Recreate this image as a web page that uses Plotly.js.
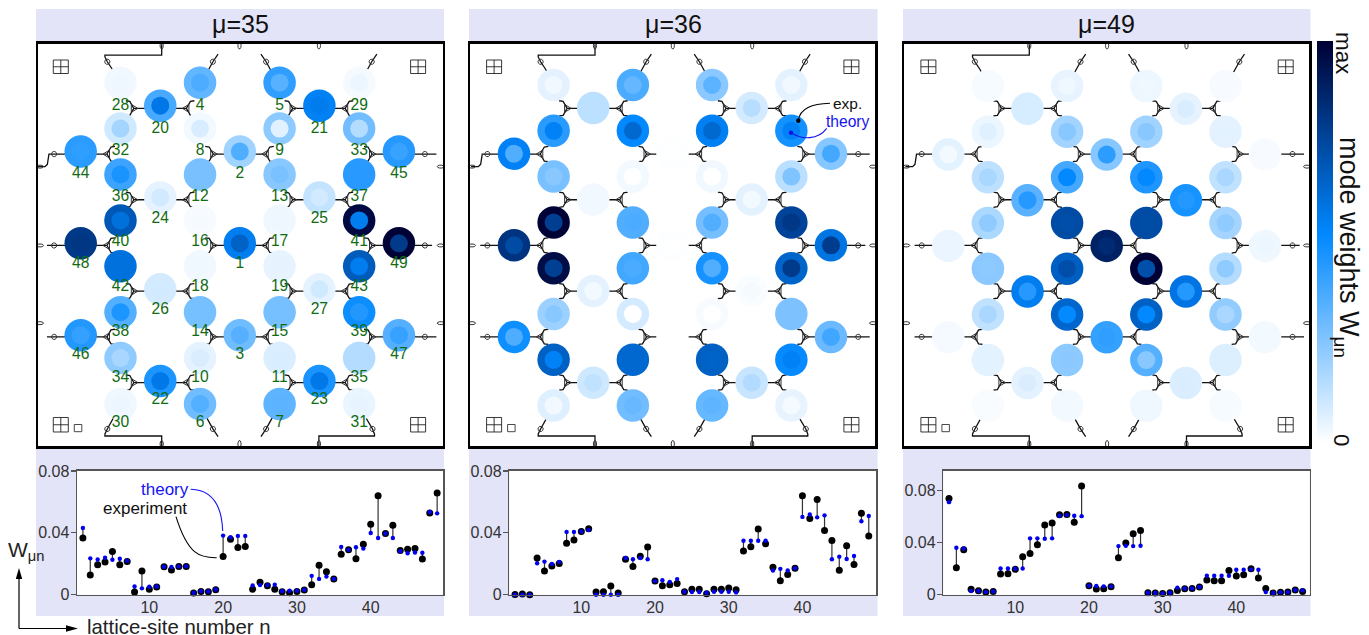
<!DOCTYPE html>
<html><head><meta charset="utf-8">
<script src="https://cdn.plot.ly/plotly-3.0.1.min.js"></script>
<style>html,body{margin:0;padding:0;background:#fff;overflow:hidden}</style>
</head><body><div id="chart" style="width:1369px;height:635px"></div>
<script>
// ---- data ----
const panelTitles = ['μ=35','μ=36','μ=49'];
// lattice position of site n = index+1: column and row of the honeycomb
const siteCol = [4,4,4,3,5,3,5,3,5,3,5,3,5,3,5,3,5,3,5,2,6,2,6,2,6,2,6,1,7,1,7,1,7,1,7,1,7,1,7,1,7,1,7,0,8,0,8,0,8];
const siteRow = [7,3,11,0,0,14,14,2,2,12,12,4,4,10,10,6,6,8,8,1,1,13,13,5,5,9,9,0,0,14,14,2,2,12,12,4,4,10,10,6,6,8,8,3,3,11,11,7,7];
const siteNumbers = siteCol.map((_, i) => i + 1);
const expMu35 = [.0367,.0128,.0194,.0211,.0279,.0194,.0215,.0017,.0154,.0036,.0049,.0181,.016,.0183,.0183,.0011,.0021,.0019,.0032,.0247,.0358,.0305,.0311,.0036,.0081,.0058,.0036,.0019,.0013,.0021,.003,.0064,.019,.0149,.0102,.0262,.029,.0232,.0326,.0456,.0639,.0396,.0449,.0285,.0294,.0298,.023,.0528,.0658];
const theoryMu35 = [.0431,.0235,.0228,.0239,.0226,.0232,.022,.0053,.0041,.0051,.0053,.0181,.0179,.0183,.0183,.0013,.0023,.0021,.0034,.0382,.0371,.038,.038,.006,.0062,.0062,.0064,.0023,.0026,.0026,.0032,.0122,.0102,.0117,.0102,.0309,.029,.0307,.0298,.0399,.0367,.0396,.0367,.0281,.0268,.0273,.0271,.0535,.0526];
const expMu36 = [.0002,.0004,0,.0237,.0154,.0186,.0201,.0332,.0353,.0409,.0426,.0017,.0019,.0056,.0011,.0229,.0182,.0248,.0308,.0088,.0058,.0064,.0073,.0019,.0036,.0036,.0006,.0036,.0036,.0043,.0032,.0282,.031,.0424,.0329,.0178,.009,.013,.0171,.064,.0492,.0616,.0415,.0351,.0158,.0317,.0195,.0526,.0379];
const theoryMu36 = [0,0,0,.0203,.0214,.0199,.0212,.0406,.0406,.0409,.0419,0,0,0,0,.0237,.0229,.0237,.0229,.0088,.0094,.0083,.0101,.0019,.0017,.0017,.0013,.0019,.0019,.0019,.0015,.0349,.0349,.0349,.0349,.0156,.0167,.0156,.0171,.0503,.0518,.05,.0513,.0229,.0246,.0231,.025,.0475,.0509];
const expMu49 = [.0736,.0206,.0344,.0041,.0031,.002,.0025,.0158,.0161,.0194,.029,.0316,.0382,.0533,.0548,.0612,.0614,.0555,.0831,.0069,.0043,.0046,.0061,.0283,.0395,.0466,.0492,.0015,.0013,.001,.0015,.0033,.0046,.0048,.0059,.0112,.0107,.0107,.0186,.0143,.0153,.0199,.0127,.0048,.0013,.0018,.002,.0036,.0025];
const theoryMu49 = [.0708,.0359,.0354,.0028,.0028,.002,.0025,.0201,.0201,.0199,.0201,.0431,.0431,.0428,.0431,.0604,.0609,.0604,.0601,.0069,.0066,.0064,.0064,.0372,.0375,.0372,.0375,.0015,.0013,.001,.0015,.0054,.0048,.0048,.0059,.0145,.0145,.0145,.0145,.0191,.0191,.0194,.0191,.002,.0013,.0018,.002,.0036,.0033];
const colorMax = [.066,.0645,.0835];
const yTickVals = [0,.04,.08];
const yTickText = ['0','0.04','0.08'];
const xTickVals = [10,20,30,40];

// ---- layout geometry (pixels) ----
const W = 1369, H = 635;
const FONT = '"Liberation Sans", Arial, sans-serif';
const latFrames = [{l:38,r:442.7,t:43.5,b:446.3,x0:80.7,px:39.78,y0:82.7,py:22.95},
                   {l:470,r:875,t:43.5,b:446.3,x0:514,px:39.62,y0:85,py:22.9},
                   {l:904.3,r:1309,t:43.5,b:446.3,x0:948.3,px:39.6,y0:86,py:22.84}];
const scaFrames = [{l:77,r:443.3,t:470.8,b:594.7,x1:82.9,px:7.38,top:.0801},
                   {l:509.3,r:876,t:470.8,b:594.7,x1:515,px:7.37,top:.0801},
                   {l:943.3,r:1309.7,t:470.8,b:594.7,x1:949,px:7.367,top:.0948}];
const strips = [[36,444],[469,877.5],[903,1310.5]];
const fx = x => x / W, fy = y => 1 - y / H;
const dom = (a,b,n) => [a/n, b/n];

const expAll = [expMu35, expMu36, expMu49];
const thAll = [theoryMu35, theoryMu36, theoryMu49];
const scale = [[0,'#ffffff'],[.52,'#0088ff'],[1,'#000033']];
const traces = [];
const layout = {width:W,height:H,margin:{l:0,r:0,t:0,b:0},paper_bgcolor:'#fff',plot_bgcolor:'rgba(0,0,0,0)',
  showlegend:false,font:{family:FONT,color:'#222'},shapes:[],annotations:[]};
const sh = layout.shapes, an = layout.annotations;

const pathOf = pts => pts.map((p,i)=> (i?'L':'M')+fx(p[0]).toFixed(5)+' '+fy(p[1]).toFixed(5)).join(' ');
const addPath = (d,color,width,fill) => sh.push({type:'path',xref:'paper',yref:'paper',path:d,layer:'below',
  line:{color:color,width:width},fillcolor:fill||'rgba(0,0,0,0)'});
const addRect = (x0,y0,x1,y1,color,line) => sh.push({type:'rect',xref:'paper',yref:'paper',x0:fx(x0),x1:fx(x1),y0:fy(y1),y1:fy(y0),
  layer:'below',fillcolor:color,line:line||{width:0}});
const note = (text,x,y,size,color,extra) => an.push(Object.assign({text:text,xref:'paper',yref:'paper',x:fx(x),y:fy(y),
  xanchor:'center',yanchor:'middle',showarrow:false,font:{size:size,color:color,family:FONT}},extra||{}));

// ---- circuit drawing under the sites ----
function circuit(p){
  const f = latFrames[p];
  const X = c => f.x0 + 39.7*c, Y = r => 85.5 + 22.85*r;
  const lines = [], thin = [];
  const poly = a => lines.push(pathOf(a.map(q=>[X(q[0]),Y(q[1])])));
  const oval = (cx,cy,rx,ry) => { const a=[]; for(let i=0;i<10;i++){const t=i/10*2*Math.PI;a.push([cx+rx*Math.cos(t),cy+ry*Math.sin(t)]);} thin.push(pathOf(a)+' Z'); };
  const tripod = (c,r,d) => {
    const cx = X(c)+d*26.3, cy = Y(r);
    lines.push(pathOf([[X(c),cy],[cx,cy]]));
    [-1,1].forEach(s=>lines.push(pathOf([[cx,cy],[cx+d*4,cy+s*7],[cx+d*8,cy+s*7.6]])));
    thin.push(pathOf([[cx-d*4,cy],[cx+d*2.5,cy-4],[cx+d*2.5,cy+4]])+' Z');
  };
  [3,7,11].forEach(r=>{tripod(0,r,1);tripod(4,r,-1);tripod(4,r,1);tripod(8,r,-1);});
  [1,5,9,13].forEach(r=>{[2,6].forEach(c=>{tripod(c,r,-1);tripod(c,r,1);});});
  // readout lines
  poly([[1,0],[.8,-.7],[.67,-1.04],[.61,-1.25],[.61,-1.33],[2.04,-1.33],[2.04,-1.8]]);
  poly([[3,0],[3.33,-1.04],[3.46,-1.37]]);
  poly([[5,0],[4.67,-1.04],[4.54,-1.37]]);
  poly([[7,0],[7.33,-1.04],[7.46,-1.37]]);
  poly([[1,14],[.67,15.03],[.61,15.25],[.61,15.34],[2.04,15.34],[2.04,15.8]]);
  poly([[3,14],[3.33,15.03],[3.46,15.37]]);
  poly([[5,14],[4.67,15.03],[4.54,15.37]]);
  poly([[7,14],[7.35,15.03],[7.4,15.25],[7.4,15.34],[6,15.34],[6,15.8]]);
  poly([[0,3],[-.67,3],[-.8,3],[-.84,3.45],[-.9,3.55],[-1.08,3.55]]);
  poly([[8,3],[8.67,3],[8.96,3]]);
  poly([[0,7],[-.67,7],[-.85,7]]);
  poly([[8,7],[8.67,7],[8.85,7]]);
  poly([[0,11],[-.67,11],[-.85,11]]);
  poly([[8,11],[8.67,11],[8.96,11]]);
  // small readout rings
  [[.67,-1.04],[3.33,-1.04],[4.67,-1.04],[7.33,-1.04],[.67,15.03],[3.33,15.03],[4.67,15.03],[7.35,15.03],
   [-.67,3],[8.67,3],[-.67,7],[8.67,7],[-.67,11],[8.67,11]].forEach(q=>oval(X(q[0]),Y(q[1]),2.6,2.6));
  // spindles on the frame
  [2.04,4,6].forEach(c=>{oval(X(c),45.5,1.6,3.5);oval(X(c),444,1.6,3.5);});
  oval(f.l+2,Y(3.55),3.5,1.5);oval(f.r-2,Y(3.55),3.5,1.5);
  oval(f.l+2,Y(7),3.5,1.5);oval(f.r-2,Y(7),3.5,1.5);
  oval(f.l+2,Y(10.4),3.5,1.5);oval(f.r-2,Y(10.4),3.5,1.5);
  addPath(lines.join(' '),'#111',1.3);
  addPath(thin.join(' '),'#333',1);
  // corner markers
  const bx = (x,y,w,h) => { addPath(pathOf([[x,y],[x+w,y],[x+w,y+h],[x,y+h]])+' Z '+pathOf([[x+w/2,y],[x+w/2,y+h]])+' '+pathOf([[x,y+h/2],[x+w,y+h/2]]),'#222',.9); };
  const L = X(0)-27.4, R = X(8)+12.3;
  bx(L,60,15,13.5);bx(R,60,15,13.5);bx(L,417.5,15,14.5);bx(R,417.5,15,14.5);
  addPath(pathOf([[L+21,424.5],[L+28.5,424.5],[L+28.5,431.7],[L+21,431.7]])+' Z','#333',.9);
}

// ---- panels ----
panelTitles.forEach((title,p)=>{
  const lf = latFrames[p], sf = scaFrames[p], st = strips[p];
  // lavender strips and white plot backgrounds
  addRect(st[0],9,st[1],42,'#e4e4f8');
  addRect(st[0],448,st[1],616,'#e4e4f8');
  addRect(lf.l,lf.t,lf.r,lf.b,'#ffffff');
  addRect(sf.l,sf.t,sf.r,sf.b,'#ffffff');
  circuit(p);
  note(title,(st[0]+st[1])/2,24,25,'#111');

  const a = p*2+1, b = p*2+2;
  const xa = a===1?'x':'x'+a, ya = a===1?'y':'y'+a, xb = 'x'+b, yb = 'y'+b;
  const axBase = {showgrid:false,zeroline:false,showline:true,mirror:true,fixedrange:true};
  layout['xaxis'+(a===1?'':a)] = Object.assign({},axBase,{domain:dom(lf.l,lf.r,W),anchor:ya,
    range:[(lf.l-lf.x0)/lf.px,(lf.r-lf.x0)/lf.px],showticklabels:false,ticks:'',linecolor:'#000',linewidth:2.5});
  layout['yaxis'+(a===1?'':a)] = Object.assign({},axBase,{domain:[1-lf.b/H,1-lf.t/H],anchor:xa,
    range:[(lf.b-lf.y0)/lf.py,(lf.t-lf.y0)/lf.py],showticklabels:false,ticks:'',linecolor:'#000',linewidth:2.5});
  layout['xaxis'+b] = Object.assign({},axBase,{domain:dom(sf.l,sf.r,W),anchor:yb,
    range:[1+(sf.l-sf.x1)/sf.px,1+(sf.r-sf.x1)/sf.px],tickmode:'array',tickvals:xTickVals,ticks:'',
    linecolor:'#555',linewidth:1.5,ticklabelstandoff:-2,tickfont:{size:16,color:'#333',family:FONT}});
  layout['yaxis'+b] = Object.assign({},axBase,{domain:[1-sf.b/H,1-sf.t/H],anchor:xb,
    range:[0,sf.top],tickmode:'array',tickvals:yTickVals,ticktext:yTickText,ticks:'outside',ticklen:5,tickcolor:'#555',tickwidth:1.2,
    linecolor:'#555',linewidth:1.5,ticklabelstandoff:-2,tickfont:{size:16,color:'#333',family:FONT}});

  const mk = (vals,size,showscale) => ({size:size,color:vals,colorscale:scale,cmin:0,cmax:colorMax[p],line:{width:0},showscale:!!showscale,
    colorbar: showscale ? {x:1317/W,xanchor:'left',xpad:0,y:1-41/H,yanchor:'top',ypad:0,lenmode:'pixels',len:402,thicknessmode:'pixels',thickness:16,
      outlinewidth:0,ticks:'',showticklabels:false} : undefined});
  traces.push({type:'scatter',mode:'markers',x:siteCol,y:siteRow,xaxis:xa,yaxis:ya,marker:mk(expAll[p],32.5,p===0),hoverinfo:'skip'});
  traces.push({type:'scatter',mode:'markers',x:siteCol,y:siteRow,xaxis:xa,yaxis:ya,marker:mk(thAll[p],18),hoverinfo:'skip'});
  if(p===0){
    traces.push({type:'scatter',mode:'text',x:siteCol,y:siteRow.map(r=>r+1.02-.014*r),text:siteNumbers.map(String),textposition:'middle center',
      xaxis:xa,yaxis:ya,textfont:{size:15.6,color:'#126b12',family:FONT},hoverinfo:'skip'});
  }
  // lower plot: stems, experiment, theory
  const sx=[],sy=[];
  siteNumbers.forEach((n,i)=>{sx.push(n,n,null);sy.push(expAll[p][i],thAll[p][i],null);});
  traces.push({type:'scatter',mode:'lines',x:sx,y:sy,xaxis:xb,yaxis:yb,line:{color:'#333',width:1.2},cliponaxis:false,hoverinfo:'skip'});
  traces.push({type:'scatter',mode:'markers',x:siteNumbers,y:expAll[p],xaxis:xb,yaxis:yb,marker:{color:'#000',size:7},cliponaxis:false,hoverinfo:'skip'});
  traces.push({type:'scatter',mode:'markers',x:siteNumbers,y:thAll[p],xaxis:xb,yaxis:yb,marker:{color:'#0000f0',size:4.4},cliponaxis:false,hoverinfo:'skip'});
});

// ---- callouts ----
const C = (a,c1,c2,b) => 'M'+fx(a[0])+' '+fy(a[1])+' C'+fx(c1[0])+' '+fy(c1[1])+' '+fx(c2[0])+' '+fy(c2[1])+' '+fx(b[0])+' '+fy(b[1]);
const above = (d,col,w) => sh.push({type:'path',xref:'paper',yref:'paper',path:d,layer:'above',line:{color:col,width:w},fillcolor:'rgba(0,0,0,0)'});
const dot = (x,y,r,col) => sh.push({type:'circle',xref:'paper',yref:'paper',x0:fx(x-r),x1:fx(x+r),y0:fy(y+r),y1:fy(y-r),layer:'above',fillcolor:col,line:{width:0}});
note('theory',165,489.3,17,'#1414f0');
note('experiment',145,508.3,17,'#111');
above(C([190.7,489.3],[215,490],[222,510],[222.7,531]),'#1414f0',1.1);
above(C([176,516.7],[188,555],[200,558],[216.7,557.7]),'#000',1.1);
note('exp.',847.3,103.3,15.5,'#111');
note('theory',848.3,121.7,15.6,'#1414f0');
above(C([830,103.3],[812,104],[800,108],[798.3,120.7]),'#000',1.1);
dot(798.3,120.7,2.2,'#000');
above(C([826.7,128.3],[818,140],[802,140],[791,132.7]),'#1414f0',1.1);
dot(791,132.7,2.2,'#1414f0');

// ---- colour bar text and lower-left axes key ----
note('max',1343,53,22.4,'#111',{textangle:90});
note('0',1342,440,22.4,'#111',{textangle:90});
note('mode weights W<sub>μn</sub>',1347,247,27,'#111',{textangle:90});
note('W<sub>μn</sub>',26,551,21,'#222');
note('lattice-site number n',179,626.5,20.4,'#222');
const key = [[19,628.5],[19,575]], key2 = [[19,628.5],[68,628.5]];
sh.push({type:'path',xref:'paper',yref:'paper',path:pathOf(key),layer:'above',line:{color:'#000',width:1.2}});
sh.push({type:'path',xref:'paper',yref:'paper',path:pathOf(key2),layer:'above',line:{color:'#000',width:1.2}});
sh.push({type:'path',xref:'paper',yref:'paper',path:pathOf([[19,568],[15.8,579],[22.2,579]])+' Z',layer:'above',fillcolor:'#000',line:{width:0}});
sh.push({type:'path',xref:'paper',yref:'paper',path:pathOf([[78,628.5],[66,625.3],[66,631.7]])+' Z',layer:'above',fillcolor:'#000',line:{width:0}});

Plotly.newPlot('chart',traces,layout,{displayModeBar:false,staticPlot:true});
</script></body></html>
